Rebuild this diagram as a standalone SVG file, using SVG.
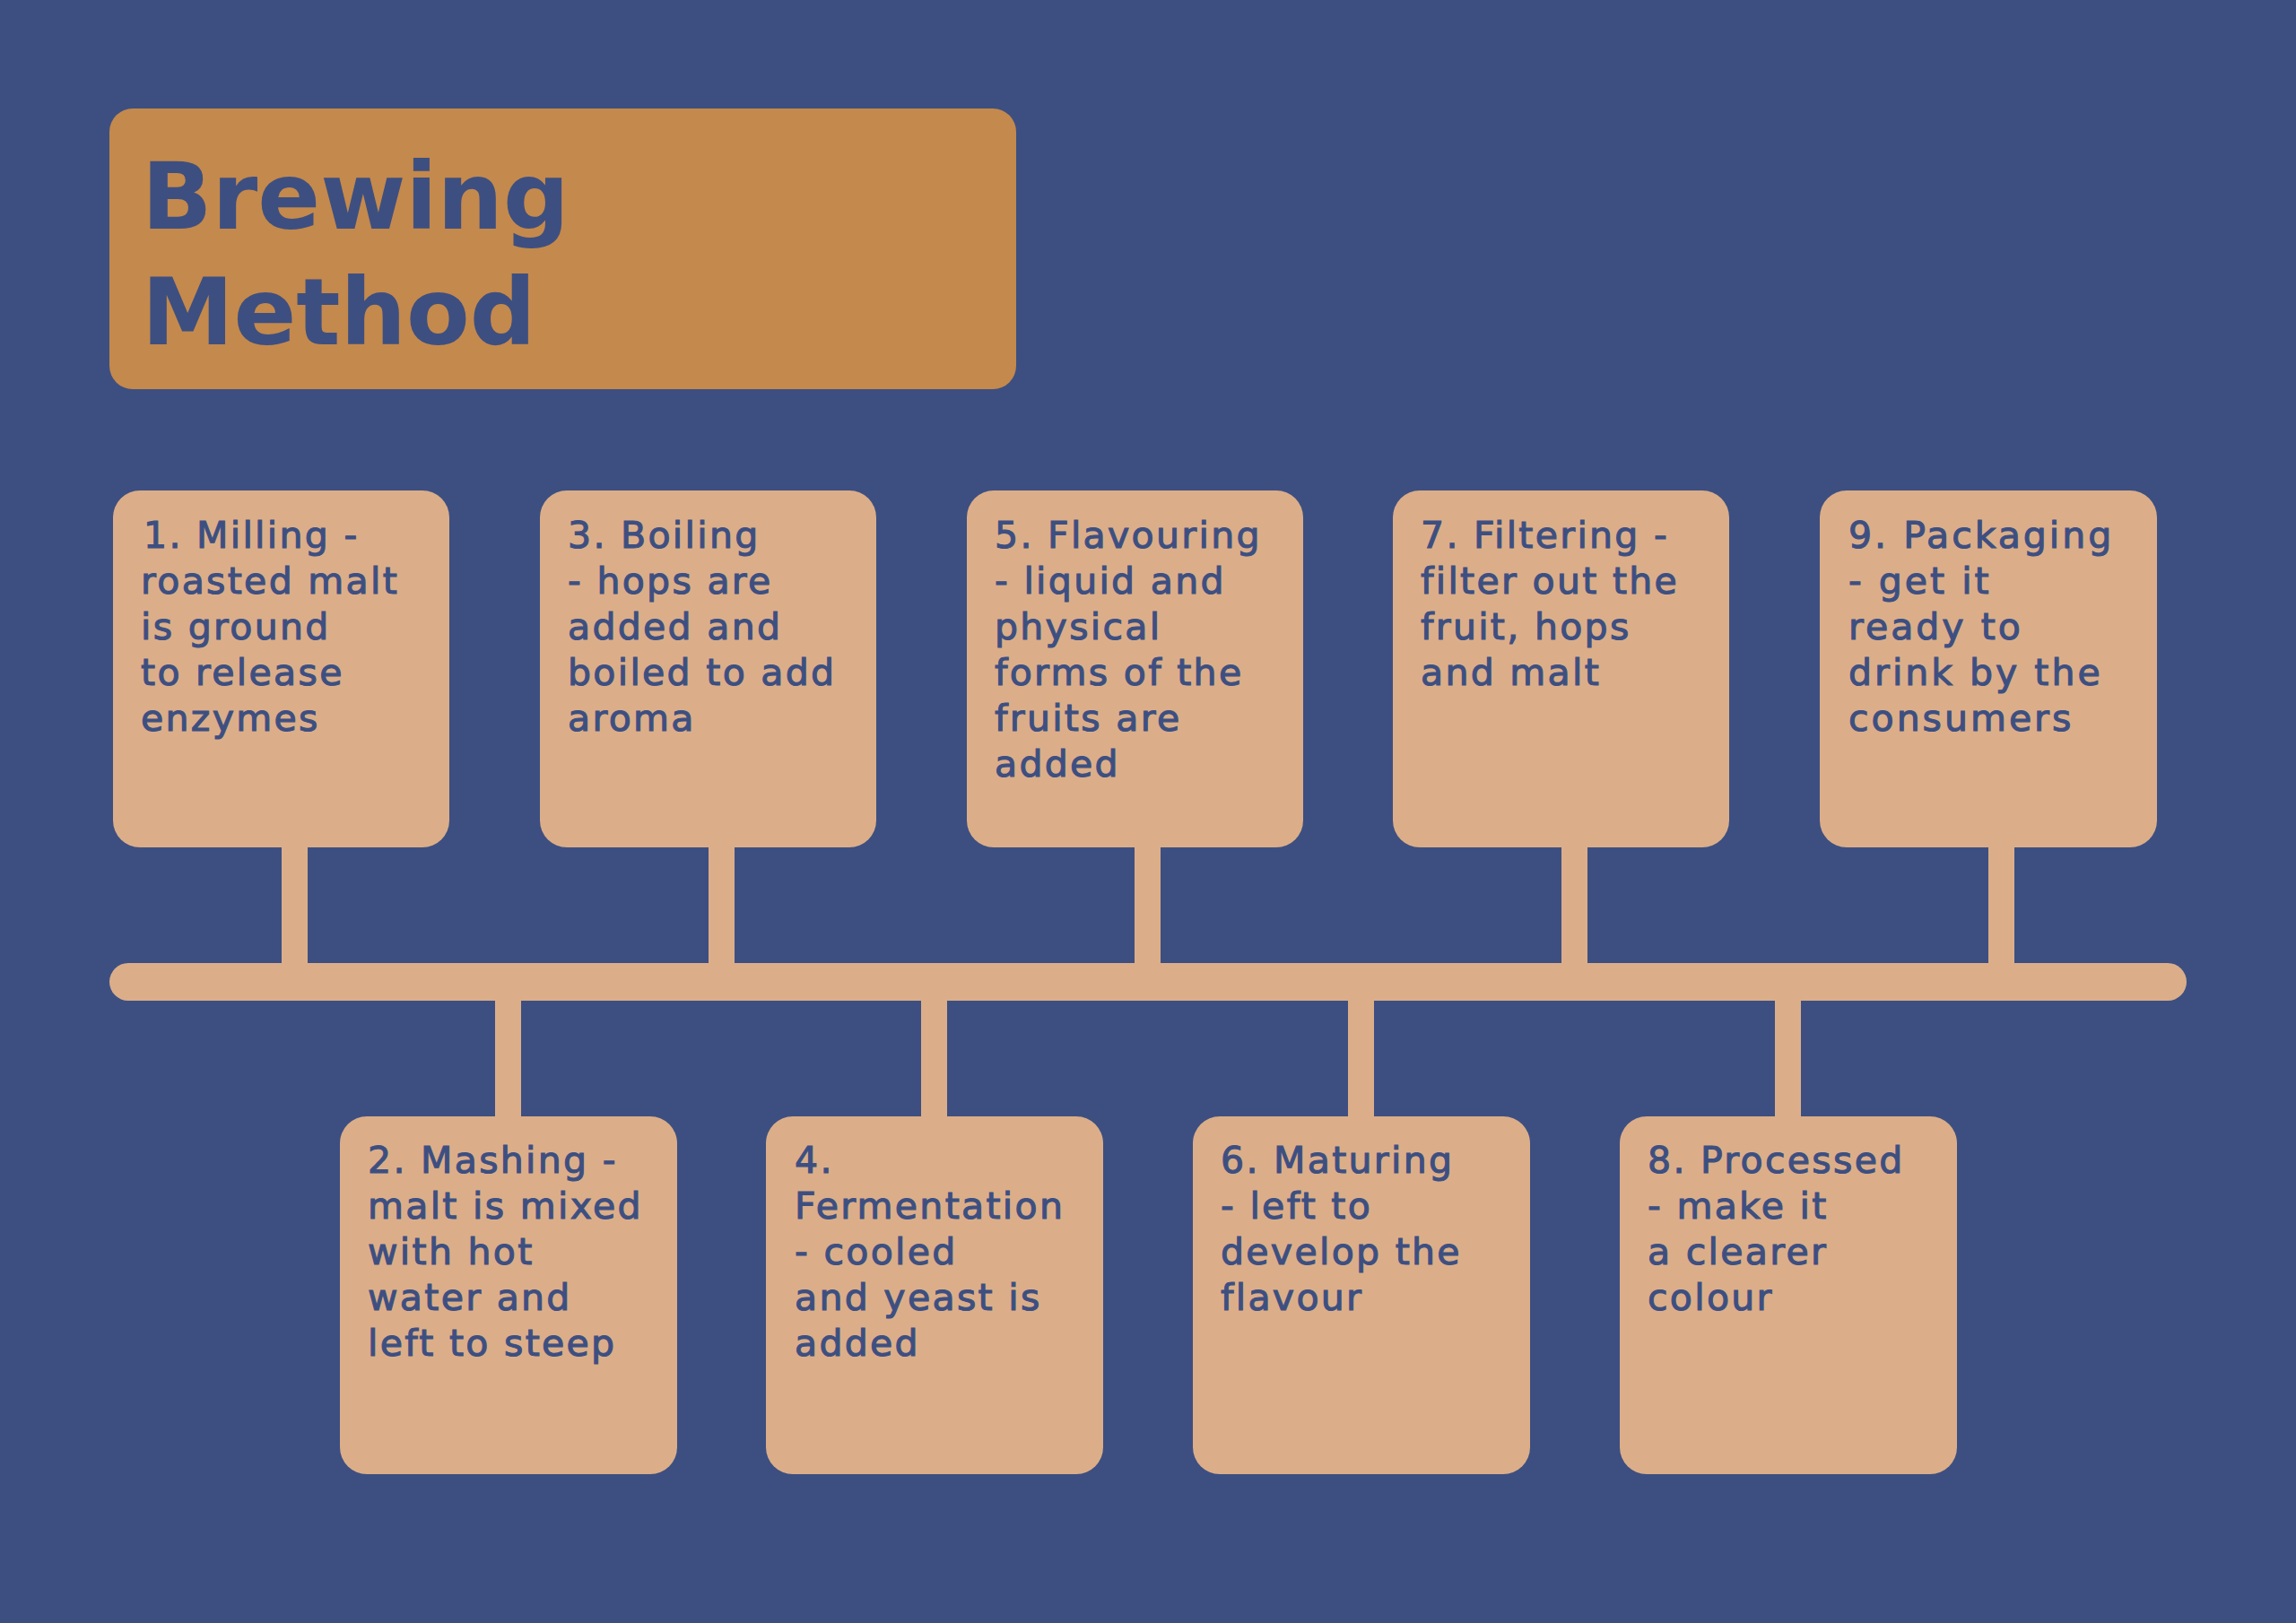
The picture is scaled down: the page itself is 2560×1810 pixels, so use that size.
<svg xmlns="http://www.w3.org/2000/svg" width="2560" height="1810" viewBox="0 0 2560 1810">
<style>
.bg{fill:#3d4f81}
.title-box{fill:#c4894c}
.box{fill:#dbae89}
.bar{fill:#dbae89}
.title{font-family:"DejaVu Sans",sans-serif;font-weight:bold;font-size:103px;fill:#3d4f81}
.t{font-family:"DejaVu Sans",sans-serif;font-size:41px;fill:#3d4f81;stroke:#3d4f81;stroke-width:1.1px;letter-spacing:2.3px}
.t9{letter-spacing:3px}
</style>
<rect class="bg" x="0" y="0" width="2560" height="1810"/>
<g id="title">
<rect class="title-box" x="122" y="121" width="1011" height="313" rx="26"/>
<text class="title" x="158" y="255">Brewing</text>
<text class="title" x="158" y="384">Method</text>
</g>
<g id="connectors">
<rect class="bar" x="122" y="1074" width="2316" height="42" rx="21"/>
<rect class="bar" x="314" y="940" width="29" height="140"/>
<rect class="bar" x="790" y="940" width="29" height="140"/>
<rect class="bar" x="1265" y="940" width="29" height="140"/>
<rect class="bar" x="1741" y="940" width="29" height="140"/>
<rect class="bar" x="2217" y="940" width="29" height="140"/>
<rect class="bar" x="552" y="1110" width="29" height="140"/>
<rect class="bar" x="1027" y="1110" width="29" height="140"/>
<rect class="bar" x="1503" y="1110" width="29" height="140"/>
<rect class="bar" x="1979" y="1110" width="29" height="140"/>
</g>
<g id="step1">
<rect class="box" x="126" y="547" width="375" height="398" rx="30"/>
<text class="t" x="160" y="611">1. Milling -</text>
<text class="t" x="157" y="662">roasted malt</text>
<text class="t" x="157" y="713">is ground</text>
<text class="t" x="157" y="764">to release</text>
<text class="t" x="157" y="815">enzymes</text>
</g>
<g id="step3">
<rect class="box" x="602" y="547" width="375" height="398" rx="30"/>
<text class="t" x="633" y="611">3. Boiling</text>
<text class="t" x="633" y="662">- hops are</text>
<text class="t" x="633" y="713">added and</text>
<text class="t" x="633" y="764">boiled to add</text>
<text class="t" x="633" y="815">aroma</text>
</g>
<g id="step5">
<rect class="box" x="1078" y="547" width="375" height="398" rx="30"/>
<text class="t" x="1109" y="611">5. Flavouring</text>
<text class="t" x="1109" y="662">- liquid and</text>
<text class="t" x="1109" y="713">physical</text>
<text class="t" x="1109" y="764">forms of the</text>
<text class="t" x="1109" y="815">fruits are</text>
<text class="t" x="1109" y="866">added</text>
</g>
<g id="step7">
<rect class="box" x="1553" y="547" width="375" height="398" rx="30"/>
<text class="t" x="1584" y="611">7. Filtering -</text>
<text class="t" x="1584" y="662">filter out the</text>
<text class="t" x="1584" y="713">fruit, hops</text>
<text class="t" x="1584" y="764">and malt</text>
</g>
<g id="step9">
<rect class="box" x="2029" y="547" width="376" height="398" rx="30"/>
<text class="t t9" x="2061" y="611">9. Packaging</text>
<text class="t t9" x="2061" y="662">- get it</text>
<text class="t t9" x="2061" y="713">ready to</text>
<text class="t t9" x="2061" y="764">drink by the</text>
<text class="t t9" x="2061" y="815">consumers</text>
</g>
<g id="step2">
<rect class="box" x="379" y="1245" width="376" height="399" rx="30"/>
<text class="t" x="410" y="1308">2. Mashing -</text>
<text class="t" x="410" y="1359">malt is mixed</text>
<text class="t" x="410" y="1410">with hot</text>
<text class="t" x="410" y="1461">water and</text>
<text class="t" x="410" y="1512">left to steep</text>
</g>
<g id="step4">
<rect class="box" x="854" y="1245" width="376" height="399" rx="30"/>
<text class="t" x="886" y="1308">4.</text>
<text class="t" x="886" y="1359">Fermentation</text>
<text class="t" x="886" y="1410">- cooled</text>
<text class="t" x="886" y="1461">and yeast is</text>
<text class="t" x="886" y="1512">added</text>
</g>
<g id="step6">
<rect class="box" x="1330" y="1245" width="376" height="399" rx="30"/>
<text class="t" x="1361" y="1308">6. Maturing</text>
<text class="t" x="1361" y="1359">- left to</text>
<text class="t" x="1361" y="1410">develop the</text>
<text class="t" x="1361" y="1461">flavour</text>
</g>
<g id="step8">
<rect class="box" x="1806" y="1245" width="376" height="399" rx="30"/>
<text class="t" x="1837" y="1308">8. Processed</text>
<text class="t" x="1837" y="1359">- make it</text>
<text class="t" x="1837" y="1410">a clearer</text>
<text class="t" x="1837" y="1461">colour</text>
</g>
</svg>
